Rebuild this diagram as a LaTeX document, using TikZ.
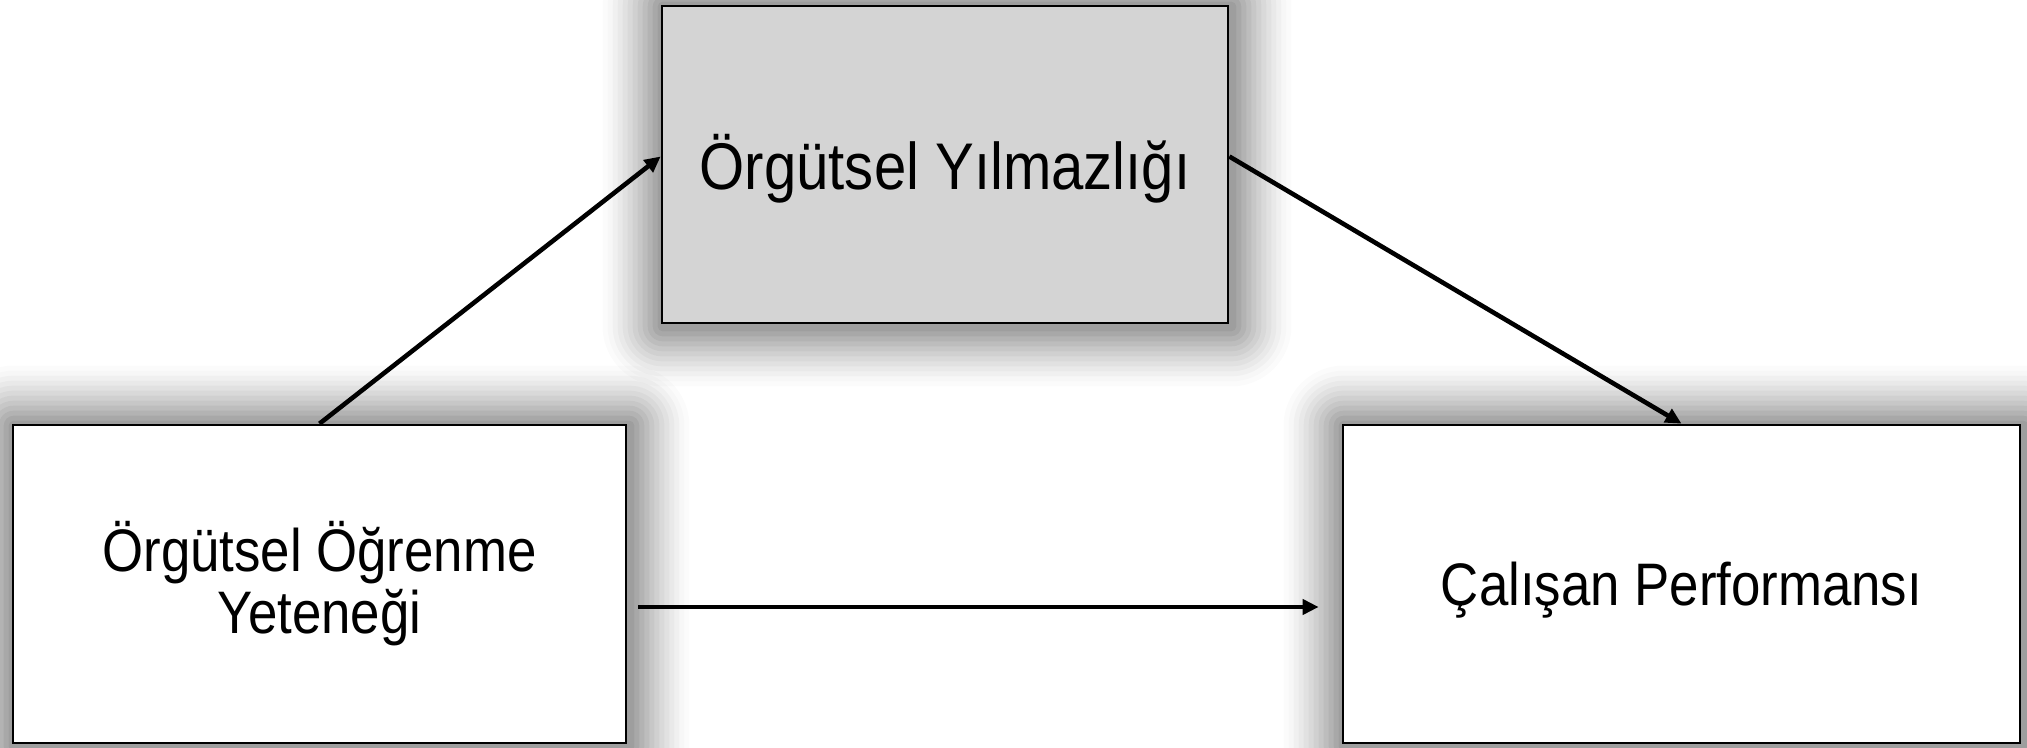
\documentclass[tikz,border=0pt]{standalone}
\usepackage{fontspec}
\setmainfont{Liberation Sans}
\newfontfamily\narrowsans[FakeStretch=0.88]{Liberation Sans}
\usetikzlibrary{arrows.meta,calc}
\pgfdeclarelayer{background}
\pgfsetlayers{background,main}
\definecolor{boxgray}{RGB}{212,212,212}
\begin{document}
\begin{tikzpicture}[x=0.5pt,y=-0.5pt,
  box/.style={draw=black, line width=1.35pt, rectangle, align=center, inner sep=0pt},
  conn/.style={line width=2.3pt, -{Triangle[length=8pt,width=7.5pt]}}]
\useasboundingbox (0,0) rectangle (2027,748);
\node[box, fill=boxgray, minimum width=283pt, minimum height=158.5pt,
      text height=31pt, text depth=5.5pt,
      font=\narrowsans\fontsize{33}{38}\selectfont] (yil) at (945,164.5) {Örgütsel Yılmazlığı};
\node[box, fill=white, minimum width=306.5pt, minimum height=159pt,
      font=\narrowsans\fontsize{30}{31}\selectfont] (ogr) at (319.5,584) {Örgütsel Öğrenme\\Yeteneği};
\node[box, fill=white, minimum width=338.5pt, minimum height=159pt,
      text height=26pt, text depth=5pt,
      font=\narrowsans\fontsize{30}{31}\selectfont] (per) at (1681.5,584) {Çalışan Performansı};
\draw[conn] (ogr.north) -- ($(yil.west)+(0,-8)$);
\draw[conn] ($(yil.east)+(0,-8)$) -- (per.north);
\draw[conn] ($(ogr.east)+(11,23)$) -- ($(per.west)+(-23,23)$);
\begin{pgfonlayer}{background}
\begin{scope}
\clip (0,0) rectangle (2027,748);
\foreach \n in {yil,ogr,per}{
  \foreach \r/\a in {60/0.017,55/0.017,50/0.026,45/0.026,40/0.034,35/0.034,30/0.043,25/0.043,20/0.052,15/0.052,10/0.06,5/0.06}{
    \fill[black, fill opacity=\a, rounded corners=\r*0.5pt]
      ($(\n.north west)+(-\r+2,-\r+2)$) rectangle ($(\n.south east)+(\r+2,\r+2)$);
  }
}
\end{scope}
\end{pgfonlayer}
\end{tikzpicture}
\end{document}
